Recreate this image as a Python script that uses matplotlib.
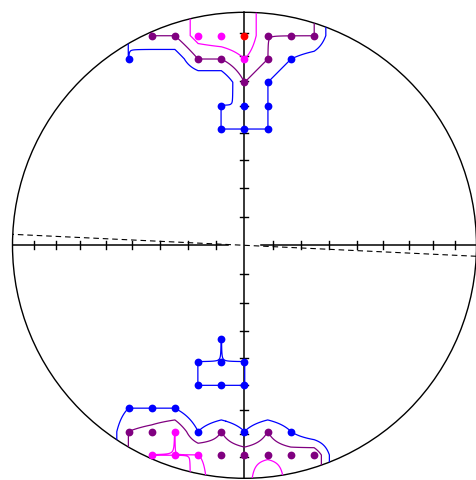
import numpy as np
import matplotlib.pyplot as plt
from matplotlib.patches import Circle

# counting grid, net radius = 1, nodes every 0.1
grid_x = [-0.7, -0.6, -0.5, -0.4, -0.3, -0.2, -0.1, 0.0, 0.1, 0.2, 0.3, 0.4, 0.5, 0.6, 0.7]

top_y = [1.0, 0.9, 0.8, 0.7, 0.6, 0.5, 0.4]
top_counts = [
    [0, 0, 1, 2, 2, 3.5, 3.9, 4, 2, 2, 2, 0, 0, 0, 0],
    [0, 0, 1, 2, 2, 3.5, 3.9, 4, 2, 2, 2, 0, 0, 0, 0],
    [0, 0, 1, 0.3, 0.3, 2, 2, 3, 2, 1, 0.5, 0, 0, 0, 0],
    [0, 0, 0, 0, 0, 0, 0, 2, 1, 0, 0, 0, 0, 0, 0],
    [0, 0, 0, 0, 0, 0, 1, 1, 1, 0, 0, 0, 0, 0, 0],
    [0, 0, 0, 0, 0, 0, 1, 1, 1, 0, 0, 0, 0, 0, 0],
    [0, 0, 0, 0, 0, 0, 0, 0, 0, 0, 0, 0, 0, 0, 0],
]

middle_y = [0.3, 0.2, 0.1, 0.0, -0.1, -0.2]

bottom_y = [-0.3, -0.4, -0.5, -0.6, -0.7, -0.8, -0.9, -1.0]
bottom_counts = [
    [0, 0, 0, 0, 0, 0, 0, 0, 0, 0, 0, 0, 0, 0, 0],
    [0, 0, 0, 0, 0, 0, 1, 0, 0, 0, 0, 0, 0, 0, 0],
    [0, 0, 0, 0, 0, 1, 1, 1, 0, 0, 0, 0, 0, 0, 0],
    [0, 0, 0, 0, 0, 1, 1, 1, 0, 0, 0, 0, 0, 0, 0],
    [0, 0, 1, 1, 1, 0, 0, 0, 0, 0, 0, 0, 0, 0, 0],
    [0, 0, 2, 2.4, 3, 1, 2, 1, 2, 1, 0, 0, 0, 0, 0],
    [0, 0, 2, 3, 3, 3, 2.5, 2.5, 2.5, 2.5, 2.9, 0, 0, 0, 0],
    [0, 0, 2, 2, 2, 3.5, 2, 2, 5, 2, 2.9, 0, 0, 0, 0],
]

levels = [0.99, 1.99, 2.99]
level_colors = ['#0000ff', '#800080', '#ff00ff']
dot_colors = ['#0000ff', '#800080', '#ff00ff', '#ff0000']

plane_strike = 92.7
plane_dip = 90.0
tick_angles = [10, 20, 30, 40, 50, 60, 70, 80]


def great_circle(strike, dip):
    s, d = np.radians(strike), np.radians(dip)
    t = np.linspace(0, np.pi, 181)
    sv = np.array([np.sin(s), np.cos(s), 0.0])
    dv = np.array([np.cos(d) * np.sin(s + np.pi / 2), np.cos(d) * np.cos(s + np.pi / 2), -np.sin(d)])
    v = np.outer(np.cos(t), sv) + np.outer(np.sin(t), dv)
    plunge = np.arcsin(np.clip(-v[:, 2], -1, 1))
    trend = np.arctan2(v[:, 0], v[:, 1])
    r = np.sqrt(2) * np.sin((np.pi / 2 - plunge) / 2)
    return r * np.sin(trend), r * np.cos(trend)


def bilinear(gx, gy, z, fx, fy):
    # gx, gy increasing; separable linear interpolation
    zr = np.array([np.interp(fx, gx, row) for row in z])
    return np.array([np.interp(fy, gy, col) for col in zr.T]).T


gy = np.array(top_y + middle_y + bottom_y)
counts = np.vstack([top_counts, np.zeros((len(middle_y), len(grid_x))), bottom_counts])
gx = np.array(grid_x)

fx = np.linspace(gx[0], gx[-1], 281)
fy = np.linspace(gy[-1], gy[0], 401)
fine = bilinear(gx, gy[::-1], counts[::-1], fx, fy)

fig = plt.figure(figsize=(4.76, 4.81), dpi=100)
ax = fig.add_axes([0, 0, 1, 1])
ax.set_xlim(-244.5 / 232, (476 - 244.5) / 232)
ax.set_ylim((246.3 - 481) / 233, 246.3 / 233)
ax.axis('off')

net = Circle((0, 0), 1, fill=False, ec='black', lw=1.0, zorder=3)
ax.add_patch(net)
clip = Circle((0, 0), 1, transform=ax.transData)

# axes of the net
ax.plot([-1, -0.073], [0, 0], color='black', lw=1.1, zorder=2)
ax.plot([0.073, 1], [0, 0], color='black', lw=1.1, zorder=2)
ax.plot([0, 0], [-1, 1], color='black', lw=1.1, zorder=2)
hx, hy = 4 / 232, 4 / 233
for a in tick_angles:
    r = np.sqrt(2) * np.sin(np.radians(a) / 2)
    for sgn in (-1, 1):
        ax.plot([sgn * r, sgn * r], [-hy, hy], color='black', lw=1.0, zorder=2)
        ax.plot([-hx, hx], [sgn * r, sgn * r], color='black', lw=1.0, zorder=2)

# great circle
px, py = great_circle(plane_strike, plane_dip)
ax.plot(px, py, color='black', lw=0.8, dashes=(5, 3.5), zorder=2)

# contours
cs = ax.contour(fx, fy, fine, levels=levels, colors=level_colors, linewidths=0.9, zorder=4)
cs.set_clip_path(clip)

# nodes
for i in range(len(gy)):
    for j in range(len(gx)):
        v = counts[i, j]
        if v >= 1 and np.hypot(gx[j], gy[i]) < 0.995:
            c = dot_colors[int(min(v, 4)) - 1]
            ax.plot(gx[j], gy[i], 'o', color=c, markersize=5.6, markeredgewidth=0, zorder=5)

plt.savefig('out.png', dpi=100)
